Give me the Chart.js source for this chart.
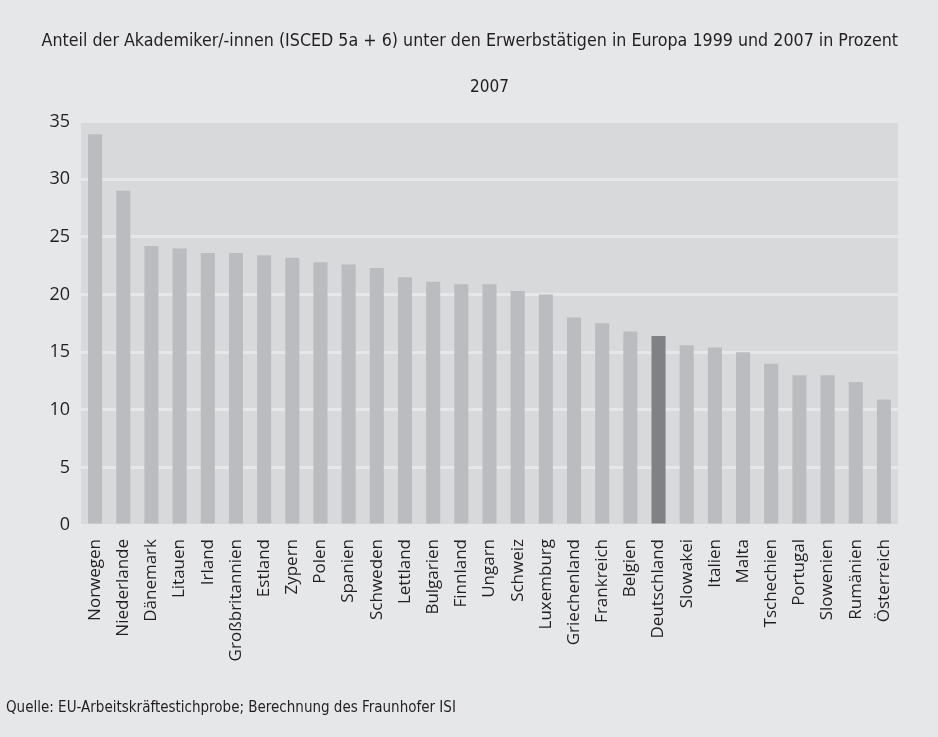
<!DOCTYPE html>
<html>
<head>
<meta charset="utf-8">
<script src="https://cdn.jsdelivr.net/npm/chart.js@4/dist/chart.umd.min.js"></script>
<style>
  html, body { margin: 0; padding: 0; background: #e6e7e9; }
  #wrap { width: 938px; height: 737px; position: relative; }
</style>
</head>
<body>
<div id="wrap"><canvas id="chart"></canvas></div>
<script>
// Akademikeranteil 2007, sortiert
const laender = [
  "Norwegen", "Niederlande", "Dänemark", "Litauen", "Irland", "Großbritannien",
  "Estland", "Zypern", "Polen", "Spanien", "Schweden", "Lettland", "Bulgarien",
  "Finnland", "Ungarn", "Schweiz", "Luxemburg", "Griechenland", "Frankreich",
  "Belgien", "Deutschland", "Slowakei", "Italien", "Malta", "Tschechien",
  "Portugal", "Slowenien", "Rumänien", "Österreich"
];
const anteil2007 = [
  33.9, 29.0, 24.2, 24.0, 23.6, 23.6, 23.4, 23.2, 22.8, 22.6, 22.3, 21.5, 21.1,
  20.9, 20.9, 20.3, 20.0, 18.0, 17.5, 16.8, 16.4, 15.6, 15.4, 15.0, 14.0,
  13.0, 13.0, 12.4, 10.9
];
const yTicks = [0, 5, 10, 15, 20, 25, 30, 35];

const titel = "Anteil der Akademiker/-innen (ISCED 5a + 6) unter den Erwerbstätigen in Europa 1999 und 2007 in Prozent";
const untertitel = "2007";
const quelle = "Quelle: EU-Arbeitskräftestichprobe; Berechnung des Fraunhofer ISI";

const textColor = "#231f20";
const narrow = "'Liberation Sans Narrow', 'DejaVu Sans Condensed', sans-serif";

const barColors = laender.map(l => l === "Deutschland" ? "#808184" : "#bbbcbf");

// grauer Hintergrund hinter dem Diagrammbereich
const plotBg = {
  id: "plotBg",
  beforeDraw(chart) {
    const { ctx, chartArea: a } = chart;
    ctx.save();
    ctx.fillStyle = "#d8d9db";
    ctx.fillRect(a.left, a.top, a.right - a.left, a.bottom - a.top);
    ctx.restore();
  }
};

// Quellenangabe unten links
const footer = {
  id: "footer",
  afterDraw(chart) {
    const ctx = chart.ctx;
    ctx.save();
    ctx.font = "15px " + narrow;
    ctx.fillStyle = textColor;
    ctx.textBaseline = "middle";
    ctx.fillText(quelle, 6, 708);
    ctx.restore();
  }
};

Chart.defaults.font.family = "'Open Sans', sans-serif";
Chart.defaults.color = textColor;

new Chart(document.getElementById("chart"), {
  type: "bar",
  plugins: [plotBg, footer],
  data: {
    labels: laender,
    datasets: [{
      data: anteil2007,
      backgroundColor: barColors,
      barPercentage: 0.5,
      categoryPercentage: 1.0
    }]
  },
  options: {
    responsive: true,
    maintainAspectRatio: false,
    animation: false,
    layout: { padding: { left: 0, right: 40, top: 0, bottom: 72 } },
    plugins: {
      legend: { display: false },
      tooltip: { enabled: false },
      title: {
        display: true,
        align: "end",
        text: titel,
        font: { family: narrow, size: 17.7, weight: "normal" },
        padding: { top: 31, bottom: 25 }
      },
      subtitle: {
        display: true,
        fullSize: false,
        text: untertitel,
        font: { family: narrow, size: 17, weight: "normal" },
        color: textColor,
        padding: { top: 0, bottom: 24 }
      }
    },
    scales: {
      x: {
        grid: { display: false },
        border: { display: false },
        ticks: {
          autoSkip: false,
          maxRotation: 90,
          minRotation: 90,
          padding: 6,
          font: { size: 17 }
        },
        afterFit(scale) { scale.height = 140; }
      },
      y: {
        min: 0,
        max: 35,
        afterBuildTicks(scale) { scale.ticks = yTicks.map(v => ({ value: v })); },
        grid: { color: "#e6e7e9", lineWidth: 3, drawTicks: false },
        border: { display: false },
        ticks: { padding: 11, font: { size: 18 } },
        afterFit(scale) { scale.width = 81; }
      }
    }
  }
});
</script>
</body>
</html>
